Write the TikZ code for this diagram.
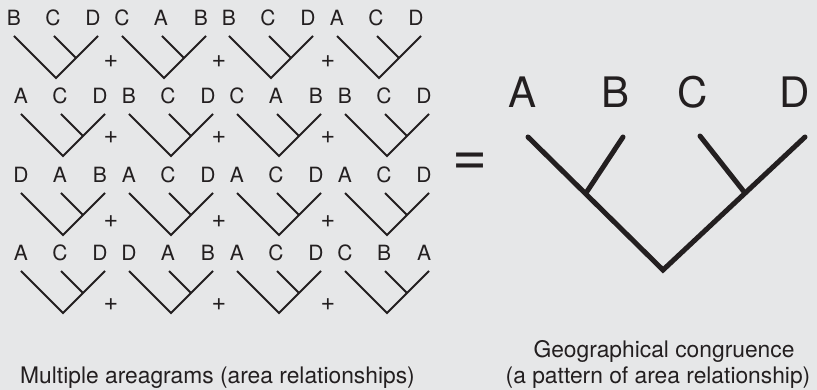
\documentclass[tikz,border=0pt]{standalone}
\usepackage{fontspec}
\setmainfont{TeX Gyre Heros}
\definecolor{paper}{RGB}{230,231,232}
\definecolor{ink}{RGB}{35,31,32}

% one small cladogram: #1,#2 = root (x, y down); #3-#5 = terminal labels; #6 = name
\newcommand\smallclade[6]{%
  \coordinate (#6-root) at (#1,#2);
  \coordinate (#6-tl) at ({#1-42},{#2-42});
  \coordinate (#6-tr) at ({#1+42},{#2-42});
  \coordinate (#6-tm) at ({#1-2},{#2-42});
  \coordinate (#6-jn) at ({#1+20},{#2-20});
  \node[leaf] (#6-a) at ({#1-42},{#2-52}) {#3};
  \node[leaf] (#6-b) at ({#1-3},{#2-52}) {#4};
  \node[leaf] (#6-c) at ({#1+37},{#2-52}) {#5};
  \draw[branch] (#6-tl) -- (#6-root) -- (#6-tr);
  \draw[branch] (#6-tm) -- (#6-jn);
}

\begin{document}
\begin{tikzpicture}[x=1pt,y=-1pt,
  leaf/.style={anchor=base,inner sep=0pt,text=ink,font=\fontsize{21}{25}\selectfont},
  plussign/.style={inner sep=0pt,text=ink,font=\fontsize{25}{30}\selectfont},
  branch/.style={draw=ink,line width=2pt},
  bigbranch/.style={draw=ink,line width=5pt,line cap=round},
  bigleaf/.style={anchor=base,inner sep=0pt,text=ink,font=\fontsize{42}{50}\selectfont},
  caption/.style={anchor=base,inner sep=0pt,text=ink,font=\fontsize{22.8}{26}\selectfont}]

  \fill[paper] (0,0) rectangle (817,390);
  \useasboundingbox (0,0) rectangle (817,390);

  % row 1
  \smallclade{56}{78}{B}{C}{D}{ra}
  \smallclade{164}{78}{C}{A}{B}{rb}
  \smallclade{271}{78}{B}{C}{D}{rc}
  \smallclade{379}{78}{A}{C}{D}{rd}
  % row 2
  \smallclade{63}{156}{A}{C}{D}{sa}
  \smallclade{171}{156}{B}{C}{D}{sb}
  \smallclade{279}{156}{C}{A}{B}{sc}
  \smallclade{387}{156}{B}{C}{D}{sd}
  % row 3
  \smallclade{63}{235}{D}{A}{B}{ta}
  \smallclade{171}{235}{A}{C}{D}{tb}
  \smallclade{279}{235}{A}{C}{D}{tc}
  \smallclade{387}{235}{A}{C}{D}{td}
  % row 4
  \smallclade{63}{313}{A}{C}{D}{ua}
  \smallclade{171}{313}{D}{A}{B}{ub}
  \smallclade{279}{313}{A}{C}{D}{uc}
  \smallclade{387}{313}{C}{B}{A}{ud}

  % plus signs between the cladograms
  \foreach \py [count=\r] in {62,138,222,305} {
    \foreach \px [count=\c] in {111,219,328} {
      \node[plussign] (plus-\r-\c) at (\px,\py) {+};
    }
  }

  % equals sign
  \node[anchor=base,inner sep=0pt,text=ink,font=\fontsize{60}{70}\selectfont] (eq) at (470,176) {=};

  % the congruent cladogram
  \coordinate (A-tip) at (528,137);
  \coordinate (B-tip) at (623,137);
  \coordinate (C-tip) at (700,136);
  \coordinate (D-tip) at (805,137);
  \coordinate (AB) at (586,193);
  \coordinate (CD) at (745,193);
  \coordinate (base) at (663,270);
  \node[bigleaf] (A) at (523,108) {A};
  \node[bigleaf] (B) at (616,108) {B};
  \node[bigleaf] (C) at (693,108) {C};
  \node[bigleaf] (D) at (795,108) {D};
  \draw[bigbranch] (A-tip) -- (base) -- (D-tip);
  \draw[bigbranch] (AB) -- (B-tip);
  \draw[bigbranch] (C-tip) -- (CD);

  % captions
  \node[caption] (cap-left) at (217.5,383) {Multiple areagrams (area relationships)};
  \node[caption] (cap-right1) at (664,357) {Geographical congruence};
  \node[caption] (cap-right2) at (658,383) {(a pattern of area relationship)};
\end{tikzpicture}
\end{document}
